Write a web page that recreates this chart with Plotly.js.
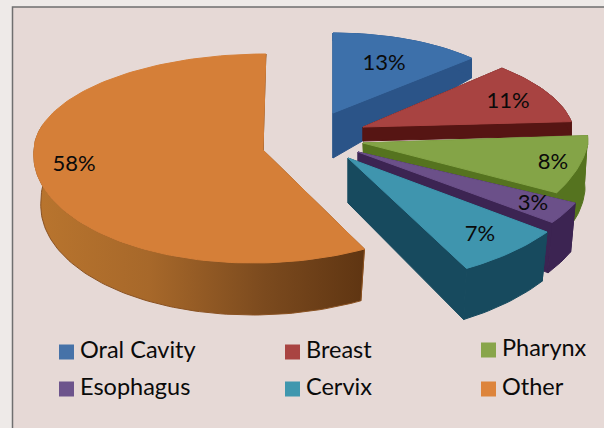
<!DOCTYPE html>
<html><head><meta charset="utf-8">
<script src="https://cdn.plot.ly/plotly-3.0.1.min.js"></script>
<style>html,body{margin:0;padding:0;background:#eeeae8}#c{width:604px;height:428px}</style></head>
<body><div id="c"></div>
<script>
const categories = ["Oral Cavity","Breast","Pharynx","Esophagus","Cervix","Other"];
const values = [13,11,8,3,7,58];
const topColors = ["#3d70aa","#a84341","#84a447","#6b5089","#3f95ae","#d57f38"];
const sideColors = ["#2b5488","#561513","#55731f","#3c2452","#174a5e","#8a5222"];
const legendSwatchColors = ["#4672a8","#a94442","#88a54a","#6d548c","#3f97ae","#dd843b"];

// view geometry of each exploded wedge: [cx, cy, rx, ryUp, ryDown, shearUp, shearDown]
const topEllipses = [[333,113,190,80,80,0,0],[363,127,210,86,86,0.24,0],[363,143,225,117,117,0,-0.2],[358,152,240,120,120,0,0],[348,158,246,126,126,0,0],[263,150,229,96,113,-0.03,-0.09]];
const baseEllipses = [[333,158,190,117,117,0,0],[363,141,210,86,86,0.24,0],[365,190,220,117,117,0,-0.1],[358,197,235,129,129,0,0],[348,203,240,133,133,0,0],[263,200,222,115,115,0,-0.09]];
const labelX = [384,508,553,533,480,74];
const labelY = [64,102,163,204,235,165];
const legendX = [66.5,292.5,488.5,66.5,292.5,488.5];
const legendY = [352,352,350,389,389,389];

const total = values.reduce((a,b)=>a+b,0);
function pt(e,t){const s=Math.sin(t),c=Math.cos(t);const dy=-(c>0?e[3]:e[4])*c;return [e[0]+e[2]*s+(c>0?e[5]:-e[6])*dy*(c>0?1:-1)*(c>0?1:1), e[1]+dy];}
function arc(e,a,b){const n=Math.max(6,Math.round((b-a)*40)),o=[];for(let i=0;i<=n;i++)o.push(pt(e,a+(b-a)*i/n));return o;}
function poly(points,color,extra){
  const xs=points.map(p=>p[0]).concat(points[0][0]),ys=points.map(p=>p[1]).concat(points[0][1]);
  return Object.assign({type:"scatter",mode:"lines",x:xs,y:ys,fill:"toself",fillcolor:color,
    line:{color:color,width:1},hoverinfo:"skip",showlegend:false},extra||{});
}
const traces=[];
let cum=0;
values.forEach((v,i)=>{
  const a=cum/total*2*Math.PI; cum+=v; const b=cum/total*2*Math.PI;
  const T=topEllipses[i],B=baseEllipses[i];
  const at=[T[0],T[1]],ab=[B[0],B[1]];
  const isOther=i===5;
  const grad=isOther?{fillgradient:{type:"horizontal",colorscale:[[0,"#b9752e"],[0.35,"#a7682a"],[0.7,"#7b4a1e"],[1,"#5f3512"]]}}:{};
  traces.push(poly([at,pt(T,a),pt(B,a),ab],sideColors[i]));
  traces.push(poly([at,pt(T,b),pt(B,b),ab],isOther?"#6a3c16":sideColors[i]));
  const wallEnd=isOther?Math.min(b,a+(285-151)/180*Math.PI):b;
  traces.push(poly(arc(T,a,wallEnd).concat(arc(B,a,wallEnd).reverse()),sideColors[i],grad));
  traces.push(poly([at].concat(arc(T,a,b)),topColors[i]));
});
traces.push({type:"scatter",mode:"text",x:labelX,y:labelY,text:values.map(v=>v+"%"),
  textposition:"middle center",textfont:{family:"Lato, Carlito, sans-serif",size:22,color:"#0a0a0a"},hoverinfo:"skip",showlegend:false});
traces.push({type:"scatter",mode:"markers",x:legendX,y:legendY,
  marker:{symbol:"square",size:15,color:legendSwatchColors,line:{width:0}},hoverinfo:"skip",showlegend:false});
traces.push({type:"scatter",mode:"text",x:legendX.map(x=>x+13.5),y:legendY,text:categories,
  textposition:"middle right",textfont:{family:"Lato, Carlito, sans-serif",size:23.5,color:"#0a0a0a"},hoverinfo:"skip",showlegend:false});

Plotly.newPlot("c",traces,{
  width:604,height:428,margin:{l:0,r:0,t:0,b:0},
  paper_bgcolor:"#eeeae8",plot_bgcolor:"rgba(0,0,0,0)",showlegend:false,
  xaxis:{range:[0,604],visible:false,fixedrange:true},
  yaxis:{range:[428,0],visible:false,fixedrange:true},
  shapes:[{type:"rect",layer:"below",xref:"x",yref:"y",x0:12.5,y0:7,x1:612,y1:440,
    fillcolor:"#e6d9d6",line:{color:"#6f6f6f",width:1.5}}]
},{displayModeBar:false,staticPlot:true});
</script></body></html>
